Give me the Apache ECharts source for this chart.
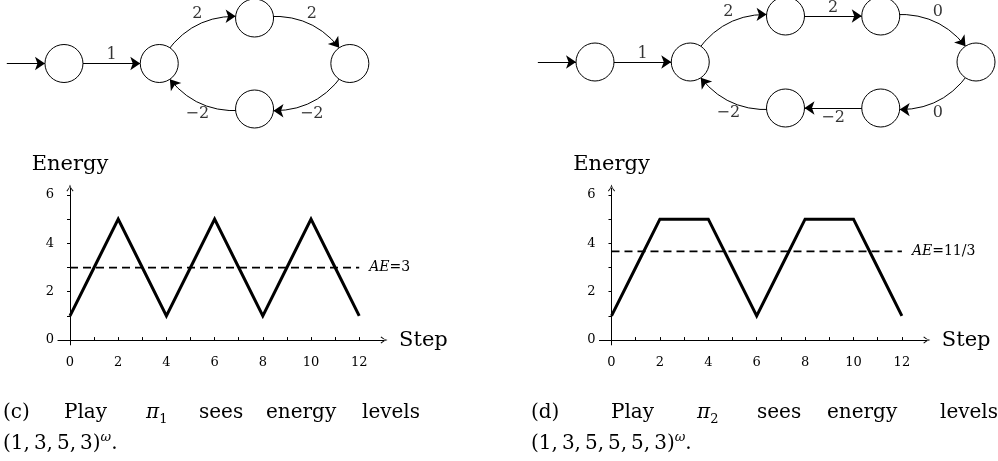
<!DOCTYPE html>
<html><head><meta charset="utf-8">
<script src="https://cdn.jsdelivr.net/npm/echarts@6/dist/echarts.min.js"></script>
<style>html,body{margin:0;padding:0;background:#fff}#c{width:998px;height:461px}</style>
</head><body><div id="c"></div>
<script>
// ---------- data ----------
const steps = [0,1,2,3,4,5,6,7,8,9,10,11,12];
const energy1 = [1,3,5,3,1,3,5,3,1,3,5,3,1];
const energy2 = [1,3,5,5,5,3,1,3,5,5,5,3,1];
const avgEnergy1 = 3;
const avgEnergy2 = 11/3;
const avgLabel1 = '3';
const avgLabel2 = '11/3';
const xTickValues = [0,1,2,3,4,5,6,7,8,9,10,11,12];
const xTickLabels = [0,2,4,6,8,10,12];
const yTickValues = [0,1,2,3,4,5,6];
const yTickLabels = [0,2,4,6];

// game graphs: nodes and weighted edges [source, target, weight]
const nodes1 = ['in','s0','s1','s2','s3','s4'];
const edges1 = [['in','s0',null],['s0','s1',1],['s1','s2',2],['s2','s3',2],['s3','s4',-2],['s4','s1',-2]];
const nodes2 = ['in','s0','s1','s2','s3','s4','s5','s6'];
const edges2 = [['in','s0',null],['s0','s1',1],['s1','s2',2],['s2','s3',2],['s3','s4',0],['s4','s5',0],['s5','s6',-2],['s6','s1',-2]];
// node placement (diagram units)
const layout1 = {in:[-0.6,0], s0:[0,0], s1:[1,0], s2:[2,1], s3:[3,0], s4:[2,-1]};
const layout2 = {in:[-0.6,0], s0:[0,0], s1:[1,0], s2:[2,1], s3:[3,1], s4:[4,0], s5:[3,-1], s6:[2,-1]};

// ---------- chart ----------
const FF = 'DejaVu Serif';
const fmtW = w => (w < 0 ? '\u2212' + (-w) : String(w));
const ARROW = 'path://M5,0 Q6,5 10,9 L9,10 Q6,6.5 5,2.5 Q4,6.5 1,10 L0,9 Q4,5 5,0 Z';

function graphSeries(nodes, edges, layout, gi) {
  return {
    type: 'graph', coordinateSystem: 'cartesian2d', xAxisIndex: gi, yAxisIndex: gi,
    symbol: 'circle', symbolSize: 38,
    edgeSymbol: ['none', 'arrow'], edgeSymbolSize: 10,
    itemStyle: {color: '#fff', borderColor: '#000', borderWidth: 1},
    lineStyle: {color: '#000', width: 1, opacity: 1},
    label: {show: false}, emphasis: {disabled: true}, silent: true,
    data: nodes.map(n => ({name: n, value: layout[n], symbolSize: n === 'in' ? 0 : 38})),
    links: edges.map(([s, t]) => ({source: s, target: t,
      lineStyle: {curveness: layout[s][1] !== layout[t][1] ? 0.35 : 0}})),
    z: 3
  };
}
function weightSeries(edges, layout, cx, gi) {
  const data = edges.filter(e => e[2] !== null).map(([s, t, w]) => {
    const a = layout[s], b = layout[t];
    const mx = (a[0] + b[0]) / 2, my = (a[1] + b[1]) / 2;
    let lx = mx, ly;
    if (a[1] !== b[1]) { lx = mx + Math.sign(mx - cx) * 0.1; ly = my + Math.sign(my) * 0.6; }
    else { ly = my + (my < 0 ? -0.21 : 0.18); }
    return {name: fmtW(w), value: [lx, ly]};
  });
  return {type: 'scatter', xAxisIndex: gi, yAxisIndex: gi, symbolSize: 1, clip: false, silent: true,
    itemStyle: {color: 'transparent'}, data,
    label: {show: true, position: 'inside', formatter: '{b}', color: '#000', fontFamily: FF, fontSize: 16}, z: 4};
}
function hiddenAxes(gi, xmin, xmax) {
  return [
    {gridIndex: gi, type: 'value', min: xmin, max: xmax, show: false},
    {gridIndex: gi, type: 'value', min: -1.3, max: 1.3, show: false}
  ];
}
function energyX(gi) {
  return {gridIndex: gi, type: 'value', min: -0.5, max: 13.03,
    axisLine: {onZero: true, lineStyle: {color: '#000', width: 1}, symbol: ['none', ARROW], symbolSize: [7, 8]},
    axisTick: {show: true, inside: true, length: 3, customValues: xTickValues, lineStyle: {color: '#000'}},
    axisLabel: {customValues: xTickLabels, margin: 11, fontFamily: FF, fontSize: 13, color: '#000'},
    splitLine: {show: false},
    name: 'Step', nameLocation: 'end', nameGap: 15,
    nameTextStyle: {fontFamily: FF, fontSize: 21, color: '#000', verticalAlign: 'middle', padding: [0, 0, 8, 0]}};
}
function energyY(gi) {
  return {gridIndex: gi, type: 'value', min: -0.2, max: 6.29,
    axisLine: {show: true, onZero: true, lineStyle: {color: '#000', width: 1}, symbol: ['none', ARROW], symbolSize: [7, 8]},
    axisTick: {show: true, inside: false, length: 3, customValues: yTickValues, lineStyle: {color: '#000'}},
    axisLabel: {customValues: yTickLabels, margin: 4, fontFamily: FF, fontSize: 13, color: '#000'},
    splitLine: {show: false},
    name: 'Energy', nameLocation: 'end', nameGap: 13,
    nameTextStyle: {fontFamily: FF, fontSize: 21, color: '#000', align: 'center'}};
}
function energySeries(vals, gi) {
  return {type: 'line', xAxisIndex: gi, yAxisIndex: gi, data: steps.map((s, i) => [s, vals[i]]),
    symbol: 'none', showSymbol: false, silent: true,
    lineStyle: {color: '#000', width: 3, join: 'miter', miterLimit: 10}, z: 3};
}
function avgSeries(avg, lbl, gi) {
  return {type: 'line', xAxisIndex: gi, yAxisIndex: gi,
    data: [[steps[0], avg], [steps[steps.length - 1], avg]], symbol: 'none', silent: true,
    lineStyle: {color: '#000', width: 1.8, type: [8, 5]},
    endLabel: {show: true, distance: 10, formatter: '{i|AE}=' + lbl, color: '#000', fontFamily: FF, fontSize: 14,
      rich: {i: {fontStyle: 'italic', fontFamily: FF, fontSize: 14, color: '#000'}}}, z: 2};
}

const xa1 = hiddenAxes(0, -0.6, 3.2), xa2 = hiddenAxes(1, -0.6, 4.2);
const chart = echarts.init(document.getElementById('c'));

const capRich = {
  p: {fontStyle: 'italic', fontFamily: FF, fontSize: 20, lineHeight: 26, color: '#000'},
  s: {fontFamily: FF, fontSize: 13, lineHeight: 13, verticalAlign: 'bottom', color: '#000'},
  t: {fontFamily: FF, fontSize: 20, lineHeight: 26, color: '#000'},
  w: {fontStyle: 'italic', fontFamily: FF, fontSize: 13, lineHeight: 13, verticalAlign: 'top', color: '#000'}
};
function word(x, y, text) {
  return {type: 'text', x, y, style: {text, rich: capRich, font: '20px "DejaVu Serif"', fill: '#000', verticalAlign: 'middle'}};
}
const capY1 = 413, capY2 = 444;
const graphics = [
  word(3, capY1, '(c)'), word(64, capY1, 'Play'), word(146, capY1, '{p|π}{s|1}'),
  word(199, capY1, 'sees'), word(266, capY1, 'energy'), word(362, capY1, 'levels'),
  word(3, capY2, '{t|(1,\u20093,\u20095,\u20093)}{w|ω}{t|.}'),
  word(531, capY1, '(d)'), word(611, capY1, 'Play'), word(697, capY1, '{p|π}{s|2}'),
  word(757, capY1, 'sees'), word(827, capY1, 'energy'), word(940, capY1, 'levels'),
  word(531, capY2, '{t|(1,\u20093,\u20095,\u20095,\u20095,\u20093)}{w|ω}{t|.}')
];

chart.setOption({
  animation: false,
  backgroundColor: '#fff',
  grid: [
    {left: 6.8, top: 4.35, width: 362.1, height: 118.3},
    {left: 537.85, top: 2.2, width: 457.2, height: 119.6},
    {left: 57.95, top: 188.0, width: 326.1, height: 156.9},
    {left: 599.4, top: 188.0, width: 327.4, height: 156.9}
  ],
  xAxis: [xa1[0], xa2[0], energyX(2), energyX(3)],
  yAxis: [xa1[1], xa2[1], energyY(2), energyY(3)],
  series: [
    graphSeries(nodes1, edges1, layout1, 0),
    weightSeries(edges1, layout1, 2, 0),
    graphSeries(nodes2, edges2, layout2, 1),
    weightSeries(edges2, layout2, 2.5, 1),
    energySeries(energy1, 2),
    avgSeries(avgEnergy1, avgLabel1, 2),
    energySeries(energy2, 3),
    avgSeries(avgEnergy2, avgLabel2, 3)
  ],
  graphic: graphics
});
</script>
</body></html>
